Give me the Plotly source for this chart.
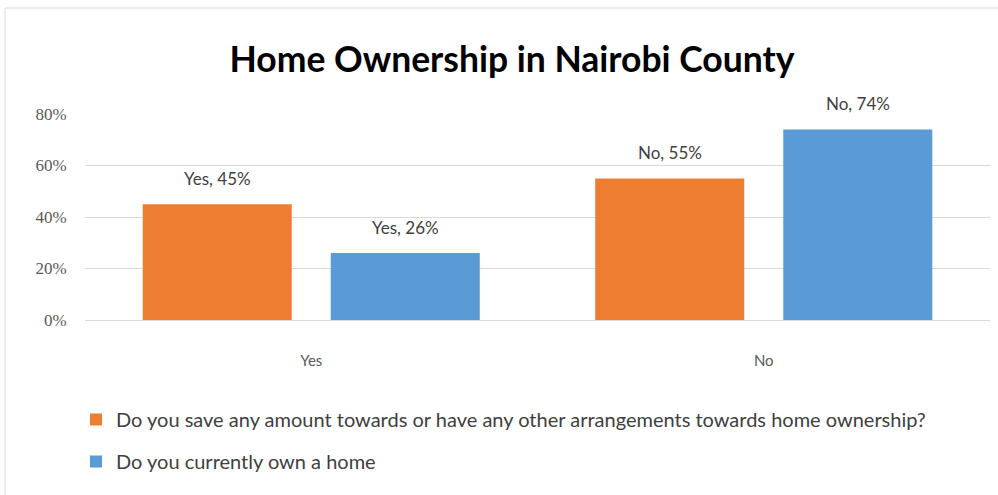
import plotly.graph_objects as go

categories = ["Yes", "No"]
save_values = [0.45, 0.55]
own_values = [0.26, 0.74]
series_names = [
    "Do you save any amount towards or have any other arrangements towards home ownership?",
    "Do you currently own a home",
]
series_colors = ["#ED7D31", "#5B9BD5"]
y_ticks = [0, 0.2, 0.4, 0.6, 0.8]

W, H = 998, 495
L, R, T, B = 85, 8, 114, 175
BARGAP, GROUPGAP = 0.169, 0.2074

pw, ph = W - L - R, H - T - B


def px_x(p):
    return (p - L) / pw


def px_y(p):
    return (H - B - p) / ph


fig = go.Figure()
for i, (name, vals, col) in enumerate(zip(series_names, [save_values, own_values], series_colors)):
    fig.add_trace(go.Bar(
        x=categories, y=vals, name=name, marker=dict(color=col, line=dict(width=0)),
        legendgroup=f"g{i}",
    ))

# value labels above each bar, shifted to the centre of each bar slot
slot = pw / len(categories) * (1 - BARGAP) / 2
for i, vals in enumerate([save_values, own_values]):
    for c, v in zip(categories, vals):
        fig.add_annotation(
            x=c, y=v, xref="x", yref="y", text=f"{c}, {round(v * 100)}%",
            showarrow=False, yanchor="bottom", yshift=13,
            xshift=(i - 0.5) * slot,
            font=dict(family="Lato, sans-serif", size=17, color="#404040"),
        )

# outer frame
fig.add_shape(type="rect", xref="paper", yref="paper",
              x0=px_x(5), x1=px_x(1010), y0=px_y(510), y1=px_y(8),
              line=dict(color="#d9d9d9", width=1), layer="below")

fig.update_layout(
    width=W, height=H,
    margin=dict(l=L, r=R, t=T, b=B),
    paper_bgcolor="white", plot_bgcolor="white",
    barmode="group", bargap=BARGAP, bargroupgap=GROUPGAP,
    title=dict(text="<b>Home Ownership in Nairobi County</b>", x=0.513, xanchor="center",
               y=1 - 60 / H, yanchor="middle",
               font=dict(family="Lato, sans-serif", size=35.5, color="#000000")),
    legend=dict(x=px_x(76), xanchor="left", y=px_y(400), yanchor="top",
                orientation="v", tracegroupgap=13, bgcolor="rgba(0,0,0,0)",
                font=dict(family="Lato, sans-serif", size=20, color="#404040")),
    xaxis=dict(showgrid=False, zeroline=False, showline=False,
               ticks="outside", ticklen=27, tickcolor="rgba(0,0,0,0)",
               tickfont=dict(family="Lato, sans-serif", size=15, color="#595959")),
    yaxis=dict(range=[0, 0.8], tickvals=y_ticks, tickformat=".0%",
               showgrid=True, gridcolor="#d9d9d9", gridwidth=1,
               zeroline=True, zerolinecolor="#d9d9d9", zerolinewidth=1,
               ticks="outside", ticklen=14, tickcolor="rgba(0,0,0,0)",
               tickfont=dict(family="Liberation Serif, serif", size=17, color="#595959")),
)

fig.write_html("out.html")
